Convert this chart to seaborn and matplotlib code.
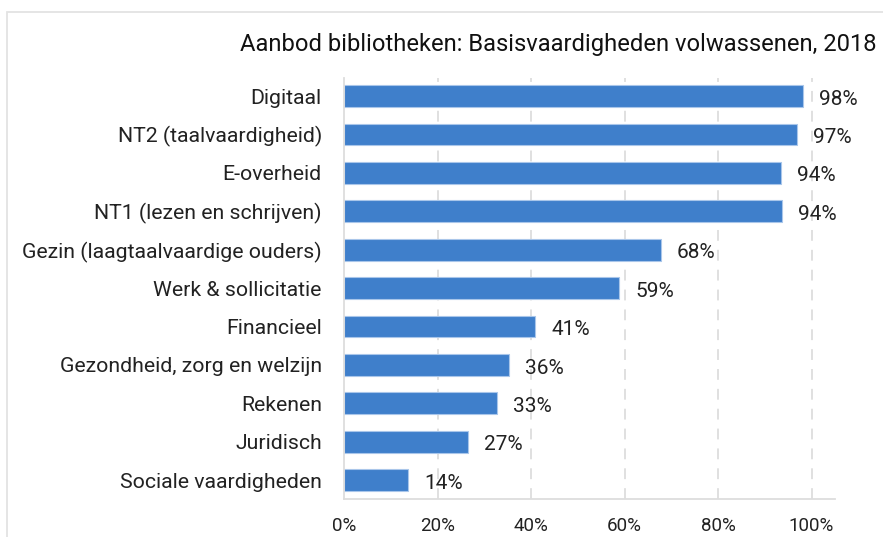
import matplotlib
matplotlib.use("Agg")
import matplotlib.pyplot as plt
import seaborn as sns
import pandas as pd
from matplotlib.patches import Rectangle

categories = ["Digitaal", "NT2 (taalvaardigheid)", "E-overheid", "NT1 (lezen en schrijven)",
              "Gezin (laagtaalvaardige ouders)", "Werk & sollicitatie", "Financieel",
              "Gezondheid, zorg en welzijn", "Rekenen", "Juridisch", "Sociale vaardigheden"]
values = [98.1, 96.8, 93.4, 93.6, 67.7, 58.8, 40.8, 35.3, 32.7, 26.5, 13.7]
labels = ["98%", "97%", "94%", "94%", "68%", "59%", "41%", "36%", "33%", "27%", "14%"]
xticks = [0, 20, 40, 60, 80, 100]
xticklabels = ["0%", "20%", "40%", "60%", "80%", "100%"]
title = "Aanbod bibliotheken: Basisvaardigheden volwassenen, 2018"

sns.set_theme(style="white")
plt.rcParams['font.family'] = ['Roboto', 'DejaVu Sans']

df = pd.DataFrame({"cat": categories, "val": values})

W, H = 883, 537
fig = plt.figure(figsize=(W / 100, H / 100), dpi=100)
ax = fig.add_axes([344 / W, 1 - 499 / H, (835 - 344) / W, (499 - 78) / H])

sns.barplot(data=df, x="val", y="cat", color="#3F7FCB", width=0.57, ax=ax,
            edgecolor="#A9C6EA", linewidth=0.8, saturation=1)

ax.set_xlim(0, 105)
ax.set_ylim(10.49, -0.47)
ax.set_xticks(xticks)
ax.set_xticklabels(xticklabels, fontsize=13.5, color="#222222")
ax.tick_params(axis="y", labelsize=15.3, colors="#222222", length=0, pad=16)
ax.tick_params(axis="x", length=0, pad=13)
ax.set_xlabel("")
ax.set_ylabel("")
for x in xticks[1:]:
    ax.axvline(x, color="#DDDDDD", linestyle=(0, (6, 5)), linewidth=1.3, zorder=0)
for s in ["top", "right"]:
    ax.spines[s].set_visible(False)
for s in ["left", "bottom"]:
    ax.spines[s].set_color("#DDDDDD")
    ax.spines[s].set_linewidth(1.3)

for i, (v, lab) in enumerate(zip(values, labels)):
    ax.text(v + 3.5, i + 0.08, lab, va="center", ha="left", fontsize=15, color="#222222")

fig.text(240 / W, 1 - 45 / H, title, fontsize=17.1, ha="left", va="center", color="#111111")

fig.patches.append(Rectangle((7 / W, -0.05), 1.1, 1 - 12 / H + 0.05, transform=fig.transFigure,
                             fill=False, edgecolor="#E3E3E3", linewidth=1.3, clip_on=False))

fig.savefig("out.png", dpi=100)
